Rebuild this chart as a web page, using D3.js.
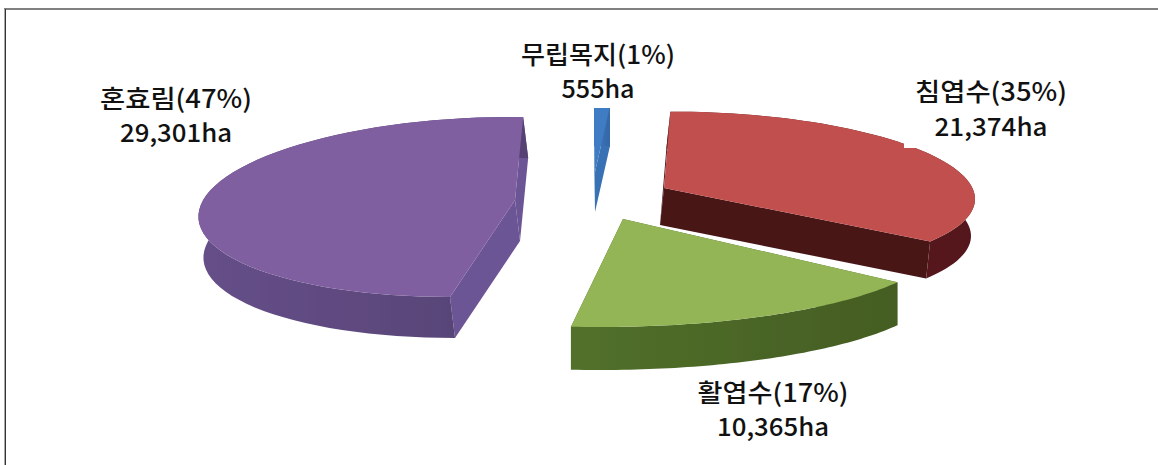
<!DOCTYPE html>
<html>
<head>
<meta charset="utf-8">
<script src="https://cdn.jsdelivr.net/npm/d3@7"></script>
<style>
  html, body { margin: 0; padding: 0; background: #fff; }
  text { font-family: "Noto Sans CJK KR", sans-serif; font-weight: 500; fill: #111; text-anchor: middle; }
</style>
</head>
<body>
<div id="chart"></div>
<script>
// Data
const categories = ["무립목지", "침엽수", "활엽수", "혼효림"];
const areas = [555, 21374, 10365, 29301];
const percents = [1, 35, 17, 47];
const areaLabels = ["555ha", "21,374ha", "10,365ha", "29,301ha"];

// Each exploded slice sits on its own tilted ellipse
const topColors = ["#3f7cc4", "#c0504d", "#93b556", "#7f5f9f"];
const sideColors = ["#3a72b6", "#5c1b1f", "#4c6827", "#5f4a80"];
const edgeColors = ["#3871b4", "#4a1518", "#4c6827", "#6c5494"];
const apex = [[595, 172], [664, 188], [623, 219], [515, 200]];
const rim = [
  { cx: 594, cy: 198, rx: 285, ry: 92, skewX: 0, skewY: 0, from: 0, to: 3.2 },
  { cx: 697, cy: 192, rx: 278, ry: 80, skewX: 0, skewY: 7, from: -5.5, to: 123 },
  { cx: 600, cy: 240, rx: 340, ry: 87, skewX: 0, skewY: 0, from: 119, to: 184.9 },
  { cx: 480, cy: 207, rx: 280, ry: 90, skewX: 30, skewY: 0, from: 180, to: 362.7 }
];
const depths = [40, 37, 43, 41];
const sideShift = [0, -4, 0, 5];
const drawOrder = [0, 3, 1, 2];

// Label boxes cover the pie like in the picture
const labelBoxes = [
  { x: 505, y: 28, w: 190, h: 80 },
  { x: 904, y: 68, w: 190, h: 80 },
  { x: 686, y: 368, w: 180, h: 76 },
  { x: 85, y: 78, w: 178, h: 77 }
];
const labelPos = [
  { x: 598, y1: 64, y2: 98, w1: 154, w2: 73 },
  { x: 991, y1: 101, y2: 136, w1: 152, w2: 113 },
  { x: 773, y1: 402, y2: 436, w1: 151, w2: 112 },
  { x: 176, y1: 108, y2: 142, w1: 152, w2: 112 }
];

const width = 1158, height = 465;
const svg = d3.select("#chart").append("svg")
  .attr("width", width)
  .attr("height", height)
  .style("display", "block");

const pie = d3.pie().sort(null)(areas);
const line = d3.line();

const defs = svg.append("defs");
defs.append("filter").attr("id", "soft")
  .append("feGaussianBlur").attr("stdDeviation", 0.7);

// rim gradients, darker toward the front corner
function sideGradient(i) {
  const g = defs.append("linearGradient")
    .attr("id", "side" + i)
    .attr("x1", 0).attr("x2", 1).attr("y1", 0).attr("y2", 0);
  g.append("stop").attr("offset", 0).attr("stop-color", d3.rgb(sideColors[i]).brighter(0.2));
  g.append("stop").attr("offset", 1).attr("stop-color", d3.rgb(sideColors[i]).darker(0.3));
}
areas.forEach((d, i) => sideGradient(i));

const pieGroup = svg.append("g").attr("filter", "url(#soft)");

drawOrder.forEach(i => {
  const r = rim[i];
  const angle = d3.scaleLinear()
    .domain([pie[i].startAngle, pie[i].endAngle])
    .range([r.from * Math.PI / 180, r.to * Math.PI / 180]);
  const steps = d3.range(0, 61).map(k => pie[i].startAngle + (pie[i].endAngle - pie[i].startAngle) * k / 60);
  const rimPts = steps.map(t => {
    const a = angle(t);
    return [
      r.cx + r.rx * Math.sin(a) + r.skewX * Math.cos(a),
      r.cy - r.ry * Math.cos(a) + r.skewY * Math.sin(a)
    ];
  });
  const down = p => [p[0] + sideShift[i], p[1] + depths[i]];
  const g = pieGroup.append("g").attr("class", "slice");

  const first = rimPts[0], last = rimPts[rimPts.length - 1];
  const quad = (a, b) => [a, b, down(b), down(a)];

  g.append("path").attr("d", line(quad(apex[i], first)) + "Z").attr("fill", edgeColors[i]);
  g.append("path").attr("d", line(quad(apex[i], last)) + "Z").attr("fill", edgeColors[i]);
  g.append("path")
    .attr("d", line(rimPts.concat(rimPts.map(down).reverse())) + "Z")
    .attr("fill", "url(#side" + i + ")");
  g.append("path")
    .attr("d", line([apex[i]].concat(rimPts)) + "Z")
    .attr("fill", topColors[i]);
});

// frame: no right or bottom side in the picture
svg.append("line").attr("x1", 4).attr("x2", width).attr("y1", 9).attr("y2", 9)
  .attr("stroke", "#808080").attr("stroke-width", 2);
svg.append("line").attr("x1", 4.5).attr("x2", 4.5).attr("y1", 9).attr("y2", height)
  .attr("stroke", "#aaa").attr("stroke-width", 1);
svg.append("line").attr("x1", 5.5).attr("x2", 5.5).attr("y1", 9).attr("y2", height)
  .attr("stroke", "#333").attr("stroke-width", 1);

// labels
categories.forEach((c, i) => {
  const b = labelBoxes[i], p = labelPos[i];
  svg.append("rect").attr("x", b.x).attr("y", b.y).attr("width", b.w).attr("height", b.h).attr("fill", "#fff");
  svg.append("text").attr("x", p.x).attr("y", p.y1)
    .attr("font-size", 25)
    .attr("textLength", p.w1).attr("lengthAdjust", "spacingAndGlyphs")
    .text(c + "(" + percents[i] + "%)");
  svg.append("text").attr("x", p.x).attr("y", p.y2)
    .attr("font-size", 25)
    .attr("textLength", p.w2).attr("lengthAdjust", "spacingAndGlyphs")
    .text(areaLabels[i]);
});
</script>
</body>
</html>
